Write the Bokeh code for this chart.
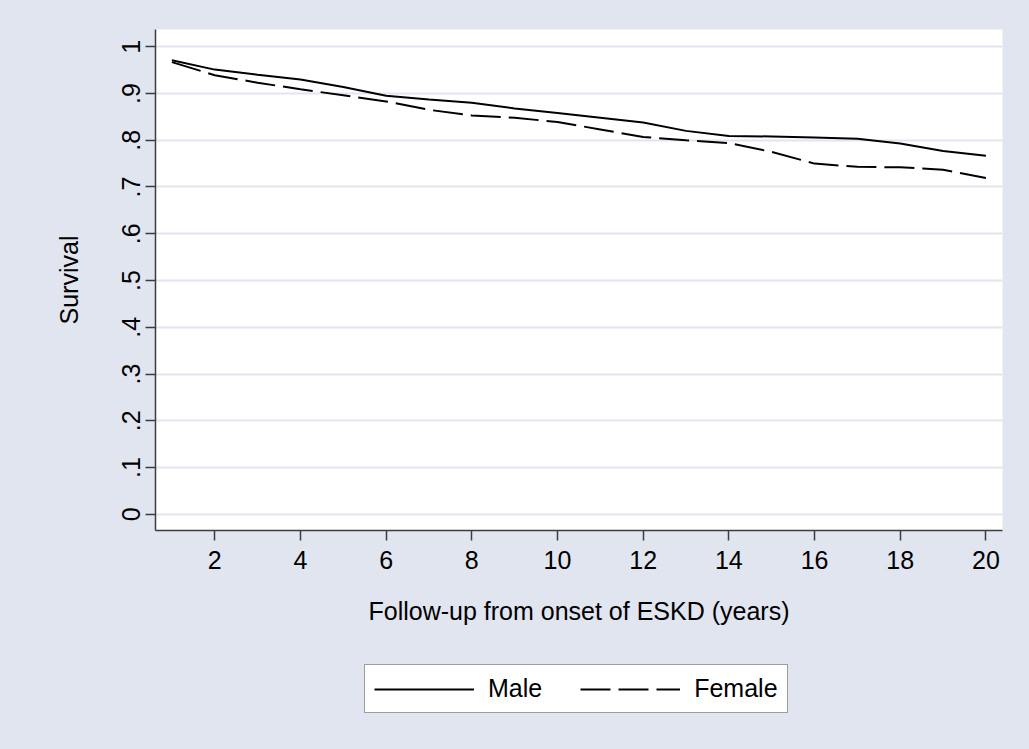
from bokeh.plotting import figure
from bokeh.layouts import column
from bokeh.models import Range1d, FixedTicker, Legend, LegendItem
from bokeh.embed import file_html
from bokeh.resources import INLINE

# Kaplan-Meier style survival estimates by sex, yearly follow-up
years = list(range(1, 21))
male = [0.971, 0.951, 0.940, 0.930, 0.914, 0.895, 0.887, 0.880, 0.868, 0.858,
        0.848, 0.838, 0.820, 0.809, 0.808, 0.806, 0.803, 0.793, 0.777, 0.767]
female = [0.967, 0.939, 0.923, 0.909, 0.896, 0.883, 0.865, 0.853, 0.848, 0.839,
          0.823, 0.807, 0.800, 0.794, 0.775, 0.750, 0.743, 0.742, 0.737, 0.719]

x_ticks = list(range(2, 21, 2))
y_ticks = [0, 0.1, 0.2, 0.3, 0.4, 0.5, 0.6, 0.7, 0.8, 0.9, 1.0]
y_tick_labels = ["0", ".1", ".2", ".3", ".4", ".5", ".6", ".7", ".8", ".9", "1"]

BG = "#E1E5EF"
AXIS = "#3c3c3c"
FONT = "Liberation Sans"
FS = "25px"
MALE_STYLE = dict(line_color="black", line_width=2)
FEMALE_STYLE = dict(line_color="black", line_width=2, line_dash="30 8")

p = figure(width=1029, height=640, output_backend="svg", toolbar_location=None,
           x_range=Range1d(0.617, 20.387), y_range=Range1d(-0.0347, 1.0368),
           min_border_left=155, min_border_right=27, min_border_top=29,
           min_border_bottom=110)
p.border_fill_color = BG
p.background_fill_color = "white"
p.outline_line_color = None

p.line(years, male, **MALE_STYLE)
p.line(years, female, **FEMALE_STYLE)

# grid
p.xgrid.grid_line_color = None
p.ygrid.ticker = FixedTicker(ticks=y_ticks)
p.ygrid.grid_line_color = BG
p.ygrid.grid_line_width = 2

# axes
p.xaxis.ticker = FixedTicker(ticks=x_ticks)
p.yaxis.ticker = FixedTicker(ticks=y_ticks)
p.yaxis.major_label_overrides = {t: l for t, l in zip(y_ticks, y_tick_labels)}
p.yaxis.major_label_orientation = "vertical"
p.xaxis.axis_label = "Follow-up from onset of ESKD (years)"
p.yaxis.axis_label = "Survival"

for ax in (p.xaxis[0], p.yaxis[0]):
    ax.axis_line_color = AXIS
    ax.axis_line_width = 1.5
    ax.major_tick_line_color = AXIS
    ax.major_tick_line_width = 1.5
    ax.major_tick_in = 0
    ax.major_tick_out = 10
    ax.minor_tick_line_color = None
    ax.major_label_text_font = FONT
    ax.major_label_text_font_size = FS
    ax.major_label_text_color = "black"
    ax.axis_label_text_font = FONT
    ax.axis_label_text_font_size = FS
    ax.axis_label_text_font_style = "normal"
    ax.axis_label_text_color = "black"

p.xaxis.major_label_standoff = 10
p.xaxis.axis_label_standoff = 25
p.yaxis.major_label_standoff = 5
p.yaxis.axis_label_standoff = 37

# legend strip below the chart; its key lines sit outside the visible range
leg_fig = figure(width=1029, height=109, output_backend="svg", toolbar_location=None,
                 x_range=Range1d(100, 200), y_range=Range1d(100, 200),
                 min_border=0)
leg_fig.border_fill_color = BG
leg_fig.background_fill_alpha = 0
leg_fig.outline_line_color = None
leg_fig.axis.visible = False
leg_fig.grid.visible = False
male_key = leg_fig.line(years, male, **MALE_STYLE)
female_key = leg_fig.line(years, female, **FEMALE_STYLE)

legend = Legend(
    items=[LegendItem(label="Male", renderers=[male_key]),
           LegendItem(label="Female", renderers=[female_key])],
    orientation="horizontal", location=(209, 36),
    glyph_width=100, glyph_height=26, label_standoff=14, spacing=38,
    padding=9, margin=0,
    label_text_font=FONT, label_text_font_size=FS, label_text_color="black",
    border_line_color=AXIS, border_line_width=1.5,
    background_fill_color="white", background_fill_alpha=1.0,
)
leg_fig.add_layout(legend, "center")

layout = column(p, leg_fig, spacing=0, styles={"background-color": BG})
open("out.html", "w").write(file_html(layout, INLINE))
